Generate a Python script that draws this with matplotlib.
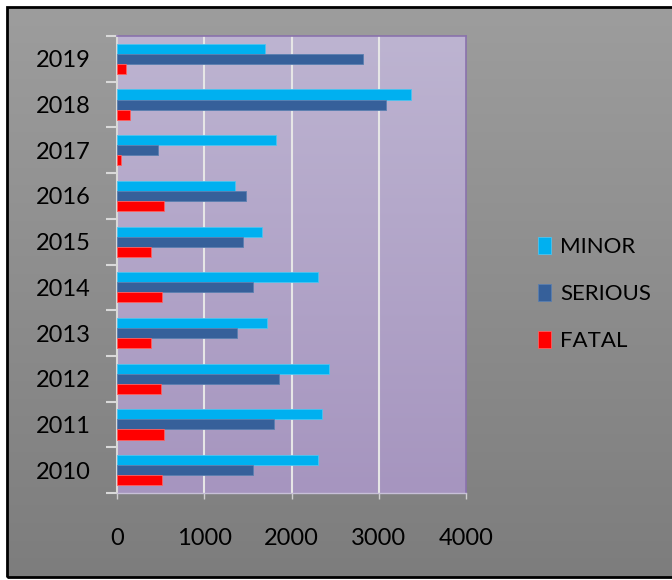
import matplotlib.pyplot as plt
import numpy as np
from matplotlib.patches import Rectangle

plt.rcParams["font.family"] = ["Lato", "DejaVu Sans"]

years = ["2010", "2011", "2012", "2013", "2014", "2015", "2016", "2017", "2018", "2019"]
minor = [2300, 2345, 2430, 1715, 2300, 1665, 1350, 1825, 3375, 1700]
serious = [1555, 1795, 1860, 1380, 1555, 1445, 1480, 475, 3080, 2820]
fatal = [515, 535, 510, 385, 515, 385, 540, 50, 150, 105]
x_ticks = [0, 1000, 2000, 3000, 4000]

c_minor = "#00B0F0"
c_serious = "#36609A"
c_fatal = "#FF0000"

W, H = 672, 580
fig = plt.figure(figsize=(W / 100, H / 100), dpi=100)
fig.patch.set_facecolor("white")

# grey gradient background inside the black frame
bg = fig.add_axes([7 / W, 3 / H, 1 - 7 / W, (580 - 10) / H], zorder=-5)
grad = np.linspace(0, 1, 256).reshape(-1, 1)
top = np.array([0x9d, 0x9d, 0x9d]) / 255
bot = np.array([0x7d, 0x7d, 0x7d]) / 255
img = top + (bot - top) * grad[:, :, None]
bg.imshow(img, aspect="auto", extent=[0, 1, 0, 1])
bg.set_xlim(0, 1)
bg.set_ylim(0, 1)
bg.axis("off")
fig.patches.append(Rectangle((7 / W, 3 / H), 1, (580 - 10) / H, transform=fig.transFigure,
                             fill=False, edgecolor="black", lw=2))

ax = fig.add_axes([117 / W, 87 / H, 349 / W, 457 / H])
pt = np.array([0xbd, 0xb4, 0xd1]) / 255
pb = np.array([0xa6, 0x95, 0xbf]) / 255
pimg = pt + (pb - pt) * grad[:, :, None]
ax.imshow(pimg, aspect="auto", extent=[0, 4000, -0.5, 9.5], zorder=0)

y = np.arange(len(years))
h = 0.22
ax.barh(y + h, minor, height=h, color=c_minor, edgecolor="#4cc4f0", lw=0.6, zorder=3, label="MINOR")
ax.barh(y, serious, height=h, color=c_serious, edgecolor="#5a7fb0", lw=0.6, zorder=3, label="SERIOUS")
ax.barh(y - h, fatal, height=h, color=c_fatal, edgecolor="#ff6060", lw=0.6, zorder=3, label="FATAL")

ax.set_xlim(0, 4000)
ax.set_ylim(-0.5, 9.5)
for gx in x_ticks[1:-1]:
    ax.axvline(gx, color="#e6e6e6", lw=1.5, zorder=1)

ax.set_xticks(x_ticks)
ax.set_xticklabels([str(v) for v in x_ticks], fontsize=17)
ax.tick_params(axis="x", length=4, width=1, color="#d0d0d0", pad=21)

ax.set_yticks(np.arange(-0.5, 10, 1))
ax.set_yticklabels([])
ax.set_yticks(y, minor=True)
ax.set_yticklabels(years, minor=True, fontsize=17)
ax.tick_params(axis="y", which="major", length=8, width=1.5, color="#d9d9d9")
ax.tick_params(axis="y", which="minor", length=0, pad=19)

for side in ["top", "right"]:
    ax.spines[side].set_color("#8a72ad")
    ax.spines[side].set_linewidth(1.2)
ax.spines["left"].set_color("#d9d9d9")
ax.spines["left"].set_linewidth(1.5)
ax.spines["bottom"].set_color("#c8c0d8")
ax.spines["bottom"].set_linewidth(1)

fig.legend(loc="upper left", bbox_to_anchor=(518 / W, 1 - 217 / H), frameon=False,
           fontsize=16, handlelength=0.6, handleheight=0.8, handletextpad=0.4,
           labelspacing=1.2)

fig.savefig("out.png", dpi=100)
